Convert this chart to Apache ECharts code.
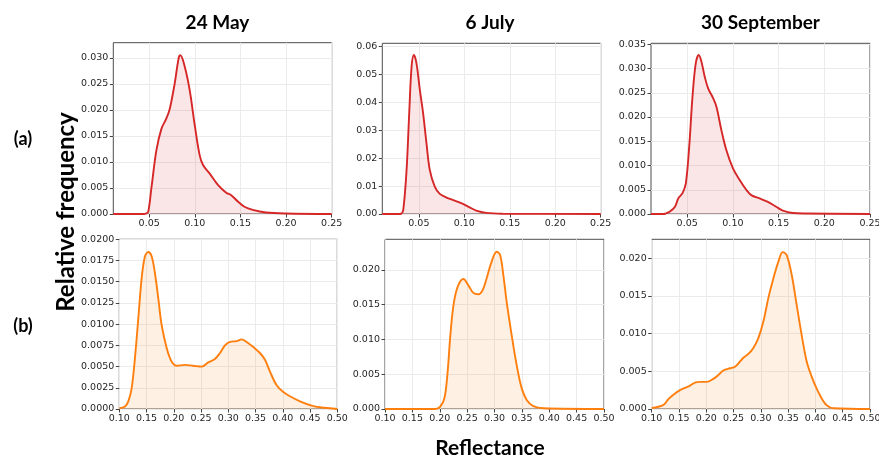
<!DOCTYPE html>
<html>
<head>
<meta charset="utf-8">
<script src="https://cdn.jsdelivr.net/npm/echarts@6/dist/echarts.min.js"></script>
<style>html,body{margin:0;padding:0;background:#fff;}#c{width:879px;height:457px;}</style>
</head>
<body>
<div id="c"></div>
<script>
// ---- Data (reflectance, relative frequency) ----
const columnTitles = ['24 May', '6 July', '30 September'];
const rowLabels = ['(a)', '(b)'];
const yAxisTitle = 'Relative frequency';
const xAxisTitle = 'Reflectance';

const xTicksTop = [0.05, 0.10, 0.15, 0.20, 0.25];
const xTicksBottom = [0.10, 0.15, 0.20, 0.25, 0.30, 0.35, 0.40, 0.45, 0.50];
const yTicksA1 = [0, 0.005, 0.010, 0.015, 0.020, 0.025, 0.030];
const yTicksA2 = [0, 0.01, 0.02, 0.03, 0.04, 0.05, 0.06];
const yTicksA3 = [0, 0.005, 0.010, 0.015, 0.020, 0.025, 0.030, 0.035];
const yTicksB1 = [0, 0.0025, 0.0050, 0.0075, 0.0100, 0.0125, 0.0150, 0.0175, 0.0200];
const yTicksB2 = [0, 0.005, 0.010, 0.015, 0.020];
const yTicksB3 = [0, 0.005, 0.010, 0.015, 0.020];

const a_may = [[0.0107,0],[0.044,0],[0.0464,0.00005],[0.049,0.00045],[0.0526,0.0052],[0.058,0.0123],[0.0635,0.0164],[0.069,0.0184],[0.0726,0.0202],[0.078,0.0251],[0.0824,0.0300],[0.0842,0.0305],[0.089,0.0283],[0.0944,0.0238],[0.0999,0.0171],[0.1053,0.0113],[0.109,0.0094],[0.1162,0.0078],[0.1253,0.0056],[0.1344,0.0041],[0.1399,0.0036],[0.1472,0.0024],[0.1544,0.0014],[0.1635,0.0008],[0.178,0.0003],[0.200,0.0001],[0.25,0]];
const a_jul = [[0.0098,0],[0.029,0],[0.0303,0.00005],[0.0328,0.0014],[0.0365,0.0158],[0.0394,0.0361],[0.042,0.0528],[0.0445,0.0570],[0.0474,0.0540],[0.0511,0.0445],[0.0547,0.0361],[0.0584,0.0253],[0.062,0.0158],[0.0675,0.0098],[0.073,0.0072],[0.0803,0.0059],[0.0894,0.0048],[0.0985,0.0036],[0.1058,0.0024],[0.1131,0.0012],[0.124,0.0004],[0.1423,0.0001],[0.25,0]];
const a_sep = [[0.0104,0],[0.024,0],[0.0257,0.00005],[0.0311,0.0005],[0.0366,0.0015],[0.0402,0.0032],[0.0449,0.0043],[0.0485,0.0063],[0.0522,0.0139],[0.0558,0.0242],[0.0594,0.0311],[0.0627,0.0328],[0.0656,0.0314],[0.0692,0.0283],[0.0729,0.0259],[0.0783,0.0239],[0.082,0.0221],[0.0874,0.0173],[0.0928,0.0132],[0.1001,0.0094],[0.1074,0.0070],[0.1146,0.0050],[0.1201,0.0039],[0.1292,0.0032],[0.1382,0.0025],[0.1473,0.0015],[0.1546,0.0007],[0.1655,0.0002],[0.18,0.0001],[0.25,0]];
const b_may = [[0.10,0.0001],[0.1104,0.0003],[0.1165,0.0009],[0.1226,0.0024],[0.1287,0.0060],[0.1349,0.0107],[0.141,0.0154],[0.1471,0.0180],[0.1532,0.0185],[0.1593,0.0180],[0.1654,0.0160],[0.1716,0.0130],[0.1777,0.0099],[0.1869,0.0072],[0.196,0.0056],[0.2052,0.0051],[0.2205,0.0052],[0.2358,0.0051],[0.2511,0.0050],[0.2633,0.0055],[0.2755,0.0059],[0.2847,0.0066],[0.2939,0.0075],[0.303,0.0079],[0.3153,0.0080],[0.3245,0.0082],[0.3336,0.0079],[0.3459,0.0073],[0.3581,0.0066],[0.3673,0.0058],[0.3765,0.0044],[0.3887,0.0028],[0.4009,0.0020],[0.4131,0.0015],[0.4315,0.0009],[0.4529,0.0004],[0.4682,0.0002],[0.50,0]];
const b_jul = [[0.10,0],[0.192,0],[0.2005,0.0003],[0.2084,0.0015],[0.2139,0.0049],[0.2199,0.0111],[0.226,0.0154],[0.2339,0.0178],[0.2431,0.0187],[0.2522,0.0178],[0.2613,0.0167],[0.2705,0.0165],[0.2784,0.0171],[0.2857,0.0188],[0.2948,0.0212],[0.304,0.0226],[0.31,0.0222],[0.3161,0.0193],[0.3222,0.0154],[0.3314,0.0106],[0.3405,0.0063],[0.3496,0.0030],[0.3588,0.0013],[0.3709,0.0004],[0.3892,0.0001],[0.50,0]];
const b_sep = [[0.10,0.00013],[0.1122,0.0003],[0.1226,0.0006],[0.1305,0.0013],[0.1397,0.0019],[0.1519,0.0025],[0.1611,0.0028],[0.1702,0.0031],[0.1794,0.0035],[0.1885,0.0036],[0.2008,0.0036],[0.213,0.0040],[0.2221,0.0045],[0.2313,0.0051],[0.2435,0.0054],[0.2527,0.0056],[0.2618,0.0063],[0.268,0.0068],[0.2771,0.0073],[0.2863,0.0081],[0.2954,0.0094],[0.3046,0.0116],[0.3137,0.0147],[0.3229,0.0173],[0.332,0.0195],[0.34,0.0208],[0.3473,0.0204],[0.3565,0.0178],[0.3656,0.0138],[0.3748,0.0098],[0.384,0.0063],[0.3931,0.0043],[0.4023,0.0027],[0.4115,0.0014],[0.4206,0.0005],[0.4328,0.0001],[0.50,0]];

// ---- Layout ----
const panels = [
  {data: a_may, grid: [113.3, 42.7, 218.4, 171.3], x: [0.0107, 0.25], xt: xTicksTop, y: [0, 0.0329], yt: yTicksA1, yd: 3, color: '#d62728', fill: 'rgba(214,39,40,0.17)'},
  {data: a_jul, grid: [382.3, 43.3, 218.4, 170.7], x: [0.0098, 0.25], xt: xTicksTop, y: [0, 0.0612], yt: yTicksA2, yd: 2, color: '#d62728', fill: 'rgba(214,39,40,0.17)'},
  {data: a_sep, grid: [651, 43.3, 219, 170.7], x: [0.0104, 0.25], xt: xTicksTop, y: [0, 0.0352], yt: yTicksA3, yd: 3, color: '#d62728', fill: 'rgba(214,39,40,0.17)'},
  {data: b_may, grid: [119.3, 239.3, 218, 169.7], x: [0.10, 0.50], xt: xTicksBottom, y: [0, 0.0200], yt: yTicksB1, yd: 4, color: '#ff7f0e', fill: 'rgba(255,127,14,0.16)'},
  {data: b_jul, grid: [385, 239.3, 219, 169.7], x: [0.10, 0.50], xt: xTicksBottom, y: [0, 0.0244], yt: yTicksB2, yd: 3, color: '#ff7f0e', fill: 'rgba(255,127,14,0.16)'},
  {data: b_sep, grid: [651.7, 239.3, 218.3, 169.7], x: [0.10, 0.50], xt: xTicksBottom, y: [0, 0.0225], yt: yTicksB3, yd: 3, color: '#ff7f0e', fill: 'rgba(255,127,14,0.16)'}
];

const tickFont = {fontFamily: 'DejaVu Sans', fontSize: 9.5, color: '#262626'};
const grids = [], xAxes = [], yAxes = [], series = [];
panels.forEach((p, i) => {
  grids.push({left: p.grid[0], top: p.grid[1], width: p.grid[2], height: p.grid[3], show: true,
    borderColor: '#4d4d4d', borderWidth: 1, backgroundColor: '#fff', outerBoundsMode: 'none', containLabel: false});
  xAxes.push({type: 'value', gridIndex: i, min: p.x[0], max: p.x[1],
    axisLine: {show: false},
    axisTick: {show: true, length: 3.5, lineStyle: {color: '#444'}, customValues: p.xt},
    axisLabel: Object.assign({margin: 5, customValues: p.xt, formatter: v => v.toFixed(2)}, tickFont),
    splitLine: {show: true, lineStyle: {color: '#ebebeb', width: 1}}});
  yAxes.push({type: 'value', gridIndex: i, min: p.y[0], max: p.y[1],
    axisLine: {show: false},
    axisTick: {show: true, length: 3.5, lineStyle: {color: '#444'}, customValues: p.yt},
    axisLabel: Object.assign({margin: 5, customValues: p.yt, formatter: v => v.toFixed(p.yd)}, tickFont),
    splitLine: {show: true, lineStyle: {color: '#ebebeb', width: 1}}});
  series.push({type: 'line', xAxisIndex: i, yAxisIndex: i, data: p.data, smooth: 0.35, showSymbol: false,
    symbol: 'none', clip: true, lineStyle: {color: p.color, width: 1.9}, areaStyle: {color: p.fill, origin: 'start'}, z: 3});
});

const boldFont = 'Lato';
const graphic = [
  {type: 'text', x: 217.5, y: 23, style: {text: columnTitles[0], font: 'bold 19px ' + boldFont, fill: '#000', textAlign: 'center', textVerticalAlign: 'middle'}},
  {type: 'text', x: 490, y: 23, style: {text: columnTitles[1], font: 'bold 19px ' + boldFont, fill: '#000', textAlign: 'center', textVerticalAlign: 'middle'}},
  {type: 'text', x: 760.5, y: 23, style: {text: columnTitles[2], font: 'bold 19px ' + boldFont, fill: '#000', textAlign: 'center', textVerticalAlign: 'middle'}},
  {type: 'text', x: 23, y: 139, style: {text: rowLabels[0], font: 'bold 18px ' + boldFont, fill: '#000', textAlign: 'center', textVerticalAlign: 'middle'}},
  {type: 'text', x: 23, y: 326, style: {text: rowLabels[1], font: 'bold 18px ' + boldFont, fill: '#000', textAlign: 'center', textVerticalAlign: 'middle'}},
  {type: 'text', x: 66, y: 212, rotation: Math.PI / 2, style: {text: yAxisTitle, font: 'bold 24px ' + boldFont, fill: '#000', textAlign: 'center', textVerticalAlign: 'middle'}},
  {type: 'text', x: 490, y: 448, style: {text: xAxisTitle, font: 'bold 21px ' + boldFont, fill: '#000', textAlign: 'center', textVerticalAlign: 'middle'}}
];

const chart = echarts.init(document.getElementById('c'), null, {renderer: 'canvas'});
chart.setOption({animation: false, backgroundColor: '#fff', grid: grids, xAxis: xAxes, yAxis: yAxes, series: series, graphic: graphic});
</script>
</body>
</html>
